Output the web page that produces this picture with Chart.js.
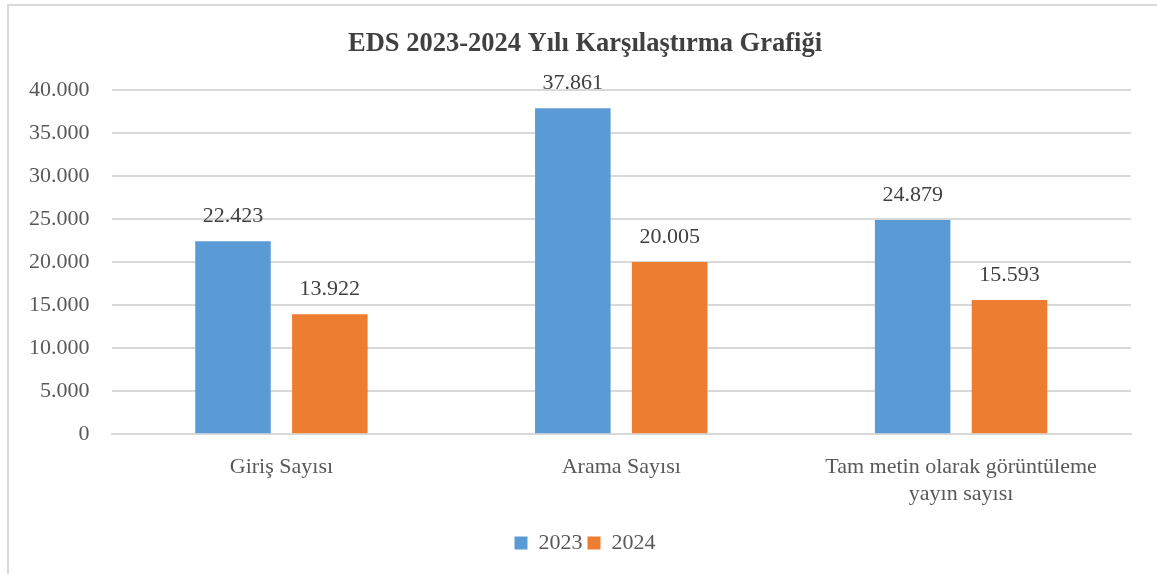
<!DOCTYPE html>
<html>
<head>
<meta charset="utf-8">
<script src="https://cdn.jsdelivr.net/npm/chart.js@4/dist/chart.umd.min.js"></script>
<style>
  html, body { margin: 0; padding: 0; background: #fff; }
  #wrap { position: relative; width: 1157px; height: 574px; overflow: hidden; }
  #frame {
    position: absolute; left: 7px; top: 4px; width: 1160px; height: 600px;
    border-left: 2px solid #d9d9d9; border-top: 2px solid #d9d9d9;
  }
  canvas { position: absolute; left: 0; top: 0; }
</style>
</head>
<body>
<div id="wrap">
  <div id="frame"></div>
  <canvas id="chart" width="1163" height="574"></canvas>
</div>
<script>
// ---- veri ----
const categories = ['Giriş Sayısı', 'Arama Sayısı', ['Tam metin olarak görüntüleme', 'yayın sayısı']];
const seriesNames = ['2023', '2024'];
const values2023 = [22423, 37861, 24879];
const values2024 = [13922, 20005, 15593];
const yTicks = [0, 5000, 10000, 15000, 20000, 25000, 30000, 35000, 40000];

const COLORS = { '2023': '#5b9bd5', '2024': '#ed7d31' };
const FONT = "'Liberation Serif', 'Times New Roman', serif";

// 40000 -> "40.000"
const fmt = v => String(v).replace(/\B(?=(\d{3})+(?!\d))/g, '.');

// bar üstü değer etiketleri
const valueLabels = {
  id: 'valueLabels',
  afterDatasetsDraw(chart) {
    const ctx = chart.ctx;
    ctx.save();
    ctx.font = '22px ' + FONT;
    ctx.fillStyle = '#404040';
    ctx.textAlign = 'center';
    ctx.textBaseline = 'middle';
    chart.data.datasets.forEach((ds, i) => {
      chart.getDatasetMeta(i).data.forEach((bar, j) => {
        ctx.fillText(fmt(ds.data[j]), bar.x, bar.y - 25);
      });
    });
    ctx.restore();
  }
};

new Chart(document.getElementById('chart').getContext('2d'), {
  type: 'bar',
  data: {
    labels: categories,
    datasets: [
      { label: seriesNames[0], data: values2023, backgroundColor: COLORS['2023'] },
      { label: seriesNames[1], data: values2024, backgroundColor: COLORS['2024'] },
    ],
  },
  options: {
    responsive: false,
    animation: false,
    devicePixelRatio: 1,
    categoryPercentage: 0.57,
    barPercentage: 0.78,
    layout: { padding: { top: 23, right: 0, bottom: 10, left: 7 } },
    plugins: {
      title: {
        display: true,
        text: 'EDS 2023-2024 Yılı Karşılaştırma Grafiği',
        color: '#404040',
        font: { family: FONT, size: 26.5, weight: 'bold' },
        padding: { top: 5, bottom: 30 },
      },
      legend: {
        position: 'bottom',
        labels: {
          color: '#595959',
          font: { family: FONT, size: 22 },
          boxWidth: 13,
          boxHeight: 13,
          padding: 5,
        },
      },
      tooltip: { enabled: false },
    },
    scales: {
      x: {
        grid: { display: false, drawTicks: false },
        border: { display: true, color: '#d9d9d9', width: 2 },
        ticks: {
          color: '#595959',
          font: { family: FONT, size: 22 },
          padding: 20,
          maxRotation: 0,
          autoSkip: false,
        },
      },
      y: {
        min: 0,
        max: 40000,
        afterBuildTicks: axis => { axis.ticks = yTicks.map(v => ({ value: v })); },
        grid: { color: '#d9d9d9', lineWidth: 2, drawTicks: false },
        border: { display: false },
        ticks: {
          color: '#595959',
          font: { family: FONT, size: 22 },
          padding: 22,
          callback: v => fmt(v),
        },
      },
      // sağda boş eksen: başlık/legend ortası grafikten biraz sağda
      yRight: {
        position: 'right',
        grid: { display: false, drawTicks: false },
        border: { display: false },
        ticks: { display: false },
        afterFit: axis => { axis.width = 32; },
      },
    },
  },
  plugins: [valueLabels],
});
</script>
</body>
</html>
